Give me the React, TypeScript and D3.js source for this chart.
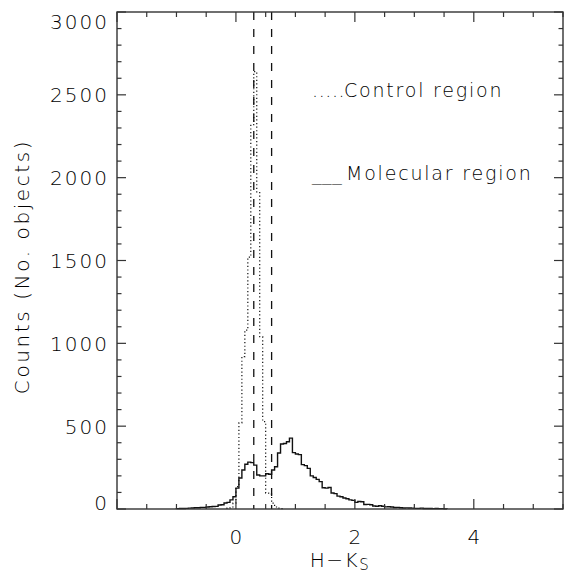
import React, { useEffect, useRef } from "react";
import * as d3 from "d3";

// bin width of both histograms (H-Ks)
const binWidth = 0.05;

// molecular region: counts per bin, first bin starts at -1.0
const molecularStart = -1.0;
const molecularCounts = [
  2, 3, 3, 4, 5, 6, 8, 8, 10, 10, 12, 14, 15, 16, 24, 26, 36, 40, 55, 74,
  126, 187, 235, 270, 283, 280, 265, 205, 200, 200, 213, 210, 235, 255, 338,
  392, 395, 406, 428, 340, 332, 328, 268, 262, 245, 200, 190, 179, 165, 128,
  126, 130, 97, 93, 78, 74, 66, 62, 55, 52, 40, 45, 44, 27, 28, 26, 18, 17,
  20, 17, 13, 14, 12, 9, 10, 8, 6, 7, 6, 5, 4, 4, 5, 3, 3, 3, 2, 3, 2, 2, 1,
];

// control region: counts per bin, first bin starts at -0.15
const controlStart = -0.15;
const controlCounts = [
  5, 12, 35, 135, 520, 920, 1080, 1520, 2320, 2640, 1910, 1040, 527, 96, 90,
  35, 12, 5, 2,
];

// vertical dashed marker lines
const markerLines = [0.3, 0.6];

const xTickLabels = [0, 2, 4];
const yTickLabels = [0, 500, 1000, 1500, 2000, 2500, 3000];

const legendItems = [
  { mark: ".....", label: "Control region", y: 97 },
  { mark: "___", label: "Molecular region", y: 180 },
];

const W = 565;
const H = 576;
const font = "'DejaVu Sans', sans-serif";
const textColor = "#000";

export default function App() {
  const ref = useRef<SVGSVGElement>(null);

  useEffect(() => {
    const svg = d3.select(ref.current);
    svg.selectAll("*").remove();

    const x = d3.scaleLinear().domain([-2, 5.5]).range([117, 563]);
    const y = d3.scaleLinear().domain([0, 3000]).range([509, 12]);
    const [x0, x1] = x.range();
    const [y0, y1] = y.range();
    const axisColor = "#333";

    // histogram as step line
    function steps(start: number, counts: number[]) {
      const pts: [number, number][] = counts.map((c, i) => [start + i * binWidth, c]);
      pts.unshift([start, 0]);
      pts.push([start + counts.length * binWidth, 0]);
      return d3
        .line<[number, number]>()
        .x((d) => x(d[0]))
        .y((d) => y(d[1]))
        .curve(d3.curveStepAfter)(pts);
    }

    svg
      .append("path")
      .attr("d", steps(controlStart, controlCounts))
      .attr("fill", "none")
      .attr("stroke", "#111")
      .attr("stroke-width", 1.2)
      .attr("stroke-dasharray", "1.2 2.4");

    svg
      .append("path")
      .attr("d", steps(molecularStart, molecularCounts))
      .attr("fill", "none")
      .attr("stroke", "#111")
      .attr("stroke-width", 1.4);

    svg
      .selectAll(".marker")
      .data(markerLines)
      .join("line")
      .attr("x1", (d) => x(d))
      .attr("x2", (d) => x(d))
      .attr("y1", y1)
      .attr("y2", y0)
      .attr("stroke", "#111")
      .attr("stroke-width", 1.3)
      .attr("stroke-dasharray", "8 9");

    // frame
    svg
      .append("rect")
      .attr("x", x0)
      .attr("y", y1)
      .attr("width", x1 - x0)
      .attr("height", y0 - y1)
      .attr("fill", "none")
      .attr("stroke", axisColor)
      .attr("stroke-width", 1.4);

    // ticks on all four sides
    const xt = d3.range(-2, 5.51, 0.5);
    xt.forEach((t) => {
      const major = Math.abs(t % 2) < 1e-6;
      const len = major ? 10 : 5;
      svg.append("line").attr("x1", x(t)).attr("x2", x(t)).attr("y1", y0).attr("y2", y0 - len)
        .attr("stroke", axisColor).attr("stroke-width", 1.2);
      svg.append("line").attr("x1", x(t)).attr("x2", x(t)).attr("y1", y1).attr("y2", y1 + len)
        .attr("stroke", axisColor).attr("stroke-width", 1.2);
    });
    const yt = d3.range(0, 3001, 100);
    yt.forEach((t) => {
      const major = t % 500 === 0;
      const len = major ? 9 : 4.5;
      svg.append("line").attr("x1", x0).attr("x2", x0 + len).attr("y1", y(t)).attr("y2", y(t))
        .attr("stroke", axisColor).attr("stroke-width", 1.2);
      svg.append("line").attr("x1", x1).attr("x2", x1 - len).attr("y1", y(t)).attr("y2", y(t))
        .attr("stroke", axisColor).attr("stroke-width", 1.2);
    });

    const txt = (sel: d3.Selection<any, any, any, any>, size: number) =>
      sel
        .attr("font-family", font)
        .attr("font-size", size)
        .attr("font-weight", 200)
        .attr("fill", textColor);

    // tick labels
    txt(
      svg
        .selectAll(".ylab")
        .data(yTickLabels)
        .join("text")
        .attr("x", 109)
        .attr("y", (d) => Math.min(Math.max(y(d) + 7.5, 28.5), 510))
        .attr("text-anchor", "end")
        .attr("letter-spacing", 2),
      20
    ).text((d) => d);

    txt(
      svg
        .selectAll(".xlab")
        .data(xTickLabels)
        .join("text")
        .attr("x", (d) => x(d))
        .attr("y", 544)
        .attr("text-anchor", "middle"),
      20
    ).text((d) => d);

    // axis titles
    txt(
      svg
        .append("text")
        .attr("transform", `translate(29, ${(y0 + y1) / 2 + 6}) rotate(-90)`)
        .attr("text-anchor", "middle")
        .attr("letter-spacing", 2.6),
      20
    ).text("Counts (No. objects)");

    const xTitle = txt(
      svg
        .append("text")
        .attr("x", (x0 + x1) / 2)
        .attr("y", 567)
        .attr("text-anchor", "middle")
        .attr("letter-spacing", 1.5),
      20
    );
    xTitle.append("tspan").text("H\u2212K");
    xTitle.append("tspan").attr("font-size", 15).attr("dy", 3).text("S");

    // legend
    legendItems.forEach((item) => {
      txt(svg.append("text").attr("x", 312).attr("y", item.y).attr("letter-spacing", 0.6), 19).text(item.mark);
      txt(
        svg
          .append("text")
          .attr("x", item.mark === "___" ? 346 : 344)
          .attr("y", item.y)
          .attr("letter-spacing", 1.8),
        19
      ).text(item.label);
    });
  }, []);

  return (
    <svg
      ref={ref}
      width={W}
      height={H}
      style={{ position: "absolute", left: 0, top: 0, background: "#fff" }}
    />
  );
}
